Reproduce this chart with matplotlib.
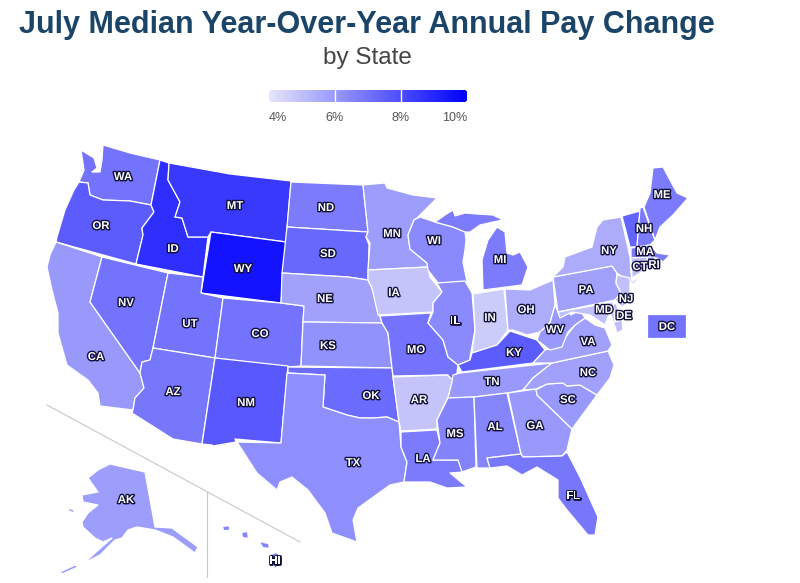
import matplotlib
matplotlib.use("Agg")
import matplotlib.pyplot as plt
import matplotlib.patheffects as pe
from matplotlib.colors import LinearSegmentedColormap, Normalize
from matplotlib.patches import Polygon, FancyBboxPatch
import numpy as np

plt.rcParams['font.family'] = ['Liberation Sans', 'DejaVu Sans']

# values, percent
state_codes = ['WA', 'OR', 'CA', 'NV', 'ID', 'MT', 'WY', 'UT', 'CO', 'AZ', 'NM',
               'ND', 'SD', 'NE', 'KS', 'OK', 'TX', 'MN', 'IA', 'MO', 'AR', 'LA',
               'WI', 'IL', 'MI', 'IN', 'OH', 'KY', 'TN', 'MS', 'AL', 'GA', 'FL',
               'SC', 'NC', 'VA', 'WV', 'PA', 'NY', 'VT', 'NH', 'ME', 'MA', 'CT',
               'RI', 'NJ', 'DE', 'MD', 'DC', 'AK', 'HI']
pay_change = [7.0, 7.6, 6.0, 7.0, 8.8, 8.5, 9.5, 7.0, 7.0, 6.9, 7.7,
              6.8, 7.3, 5.8, 6.2, 7.2, 6.3, 5.9, 4.9, 7.0, 4.9, 6.8,
              6.4, 6.4, 6.8, 4.7, 5.5, 7.6, 6.0, 6.6, 6.5, 6.0, 6.9,
              6.0, 5.8, 5.8, 6.0, 5.8, 5.5, 7.4, 6.8, 6.8, 6.8, 5.0,
              6.5, 5.0, 5.0, 5.0, 7.0, 5.9, 6.5]
legend_ticks = [4, 6, 8, 10]
legend_labels = ['4%', '6%', '8%', '10%']

# rough state outlines in picture pixels
outlines = {
    'WA': [[(81, 150), (94, 158), (97, 168), (92, 172), (100, 172), (102, 160), (103, 145), (130, 153), (160, 160), (151, 205), (130, 201), (103, 200), (90, 195), (88, 183), (79, 182), (84, 170)]],
    'OR': [[(79, 182), (88, 183), (90, 195), (103, 200), (130, 201), (151, 205), (154, 212), (142, 228), (143, 235), (136, 264), (56, 242), (57, 237), (65, 210), (74, 190)]],
    'CA': [[(56, 242), (102, 257), (90, 302), (140, 373), (144, 388), (135, 398), (133, 410), (100, 406), (98, 393), (88, 380), (67, 365), (58, 333), (58, 313), (52, 290), (47, 267), (50, 255)]],
    'NV': [[(102, 257), (168, 273), (153, 348), (150, 360), (142, 362), (140, 373), (90, 302)]],
    'ID': [[(160, 160), (169, 163), (168, 180), (180, 202), (175, 217), (182, 218), (188, 237), (208, 237), (203, 277), (136, 264), (143, 235), (142, 228), (154, 212), (151, 205)]],
    'MT': [[(169, 163), (230, 174), (291, 181), (286, 242), (211, 232), (208, 237), (188, 237), (182, 218), (175, 217), (180, 202), (168, 180)]],
    'WY': [[(211, 232), (286, 242), (281, 303), (201, 293)]],
    'UT': [[(168, 273), (203, 277), (201, 293), (223, 298), (215, 358), (153, 348)]],
    'CO': [[(223, 298), (281, 303), (304, 306), (303, 322), (301, 366), (288, 367), (215, 358)]],
    'AZ': [[(153, 348), (215, 358), (202, 444), (173, 439), (132, 413), (133, 410), (135, 398), (144, 388), (140, 373), (142, 362), (150, 360)]],
    'NM': [[(215, 358), (288, 366), (281, 443), (235, 439), (236, 442), (213, 446), (212, 445), (202, 444)]],
    'ND': [[(291, 182), (363, 185), (368, 232), (287, 227)]],
    'SD': [[(287, 227), (368, 232), (366, 237), (369, 245), (368, 280), (348, 277), (282, 273)]],
    'NE': [[(282, 273), (348, 277), (368, 280), (372, 288), (382, 323), (303, 322), (304, 306), (281, 303)]],
    'KS': [[(303, 322), (382, 323), (388, 333), (392, 368), (301, 366)]],
    'OK': [[(288, 367), (392, 368), (393, 377), (399, 422), (387, 417), (373, 418), (360, 418), (347, 415), (323, 407), (325, 375), (288, 373)]],
    'TX': [[(287, 373), (325, 375), (323, 407), (347, 415), (360, 418), (373, 418), (387, 417), (399, 422), (401, 447), (407, 462), (404, 482), (390, 485), (358, 508), (353, 520), (357, 542), (332, 533), (325, 513), (308, 490), (292, 477), (280, 482), (277, 490), (257, 473), (237, 442), (281, 443)]],
    'MN': [[(363, 185), (385, 183), (387, 188), (413, 195), (437, 198), (417, 218), (414, 220), (408, 235), (410, 249), (427, 263), (428, 267), (368, 270), (370, 243), (366, 237), (368, 232)]],
    'IA': [[(368, 270), (428, 267), (430, 277), (442, 292), (433, 303), (433, 312), (378, 315), (372, 288), (368, 280)]],
    'MO': [[(380, 316), (431, 313), (428, 323), (443, 340), (448, 357), (458, 365), (457, 373), (452, 382), (448, 375), (393, 376), (392, 368), (388, 333), (382, 323)]],
    'AR': [[(393, 377), (447, 375), (453, 380), (448, 397), (437, 420), (437, 429), (401, 431), (399, 422)]],
    'LA': [[(401, 432), (437, 430), (440, 443), (433, 460), (458, 460), (463, 472), (450, 473), (467, 487), (447, 488), (430, 482), (404, 482), (407, 462), (401, 447)]],
    'MS': [[(448, 398), (474, 397), (476, 467), (462, 472), (458, 460), (433, 460), (440, 443), (437, 420)]],
    'AL': [[(474, 397), (507, 393), (521, 454), (487, 458), (490, 468), (477, 468)]],
    'GA': [[(508, 393), (536, 389), (537, 395), (572, 429), (567, 450), (562, 456), (523, 457), (521, 454)]],
    'FL': [[(487, 458), (521, 454), (523, 457), (562, 456), (567, 452), (580, 477), (598, 517), (595, 535), (588, 535), (567, 510), (558, 498), (558, 480), (537, 467), (522, 475), (507, 466), (490, 468)]],
    'SC': [[(536, 390), (547, 384), (563, 383), (567, 386), (580, 385), (597, 395), (572, 429), (537, 395)]],
    'NC': [[(523, 390), (533, 378), (552, 363), (608, 351), (614, 365), (610, 378), (597, 395), (580, 385), (567, 386), (563, 383), (547, 384), (536, 389)]],
    'TN': [[(452, 382), (453, 375), (460, 373), (552, 363), (533, 378), (523, 390), (508, 393), (474, 397), (448, 398)]],
    'KY': [[(458, 365), (470, 360), (472, 353), (497, 345), (510, 331), (525, 336), (537, 340), (545, 350), (533, 363), (462, 372)]],
    'IL': [[(437, 283), (465, 281), (472, 293), (475, 330), (470, 357), (470, 360), (458, 365), (448, 357), (443, 340), (428, 323), (433, 312), (433, 303), (442, 292)]],
    'IN': [[(473, 294), (504, 289), (508, 330), (497, 345), (472, 353), (475, 330)]],
    'OH': [[(505, 289), (530, 290), (553, 280), (555, 305), (550, 323), (540, 332), (527, 335), (513, 330), (508, 330)]],
    'MI': [[(483, 290), (482, 260), (488, 240), (497, 227), (505, 232), (507, 253), (513, 255), (520, 252), (528, 267), (522, 285)],
           [(435, 222), (445, 215), (453, 210), (455, 216), (465, 213), (477, 214), (493, 215), (503, 220), (493, 222), (480, 225), (470, 232), (465, 232), (453, 227)]],
    'WI': [[(414, 220), (420, 217), (435, 222), (453, 227), (465, 232), (466, 240), (465, 250), (463, 262), (467, 282), (438, 283), (428, 270), (427, 263), (410, 249), (408, 235)]],
    'PA': [[(553, 277), (612, 266), (617, 273), (616, 283), (621, 293), (615, 300), (558, 312)]],
    'NY': [[(565, 257), (592, 247), (597, 227), (603, 220), (621, 217), (630, 257), (631, 273), (632, 282), (646, 272), (633, 284), (617, 273), (612, 266), (553, 277), (563, 267)]],
    'VT': [[(622, 216), (640, 211), (637, 247), (630, 247)]],
    'NH': [[(640, 208), (643, 207), (655, 240), (650, 245), (637, 247)]],
    'ME': [[(644, 207), (650, 193), (653, 168), (663, 167), (677, 193), (688, 198), (673, 215), (660, 227), (655, 240)]],
    'MA': [[(631, 248), (650, 245), (657, 253), (670, 255), (663, 262), (657, 258), (631, 258)]],
    'CT': [[(631, 258), (647, 257), (648, 268), (632, 278)]],
    'RI': [[(647, 257), (654, 257), (657, 265), (649, 268)]],
    'NJ': [[(617, 275), (630, 278), (630, 290), (628, 303), (622, 307), (615, 300), (621, 293), (616, 283)]],
    'DE': [[(613, 305), (616, 303), (622, 320), (615, 322)]],
    'MD': [[(558, 312), (613, 302), (615, 322), (622, 320), (623, 330), (617, 333), (610, 312), (605, 325), (590, 315), (572, 312), (560, 318)]],
    'VA': [[(533, 363), (545, 350), (555, 347), (565, 338), (575, 325), (585, 318), (595, 325), (605, 328), (612, 345), (608, 351), (552, 363)]],
    'WV': [[(555, 305), (558, 312), (568, 310), (571, 315), (580, 310), (585, 318), (575, 325), (568, 332), (562, 347), (550, 350), (537, 340), (540, 332), (550, 323)]],
    'DC': [[(647, 314), (686, 314), (686, 338), (647, 338)]],
    'AK': [[(88, 478), (98, 470), (110, 464), (145, 472), (155, 527), (172, 528), (198, 547), (195, 553), (173, 537), (155, 530), (137, 527), (128, 530), (122, 538), (115, 540), (100, 555), (84, 563), (95, 553), (112, 538), (103, 542), (95, 538), (83, 527), (82, 522), (88, 513), (98, 505), (83, 502), (82, 495), (98, 492)],
           [(60, 572), (75, 565), (78, 567), (62, 574)], [(68, 508), (74, 510), (74, 513), (69, 511)]],
    'HI': [[(270, 555), (277, 553), (282, 561), (275, 568)], [(260, 542), (268, 544), (269, 548), (263, 547)],
           [(242, 533), (247, 532), (248, 538), (243, 537)], [(223, 527), (229, 526), (229, 530), (224, 530)]],
}

label_pos = {
    'WA': (123, 177), 'OR': (101, 226), 'CA': (96, 357), 'NV': (126, 303), 'ID': (173, 249),
    'MT': (235, 206), 'WY': (243, 269), 'UT': (190, 324), 'CO': (260, 334), 'AZ': (173, 392),
    'NM': (246, 403), 'ND': (326, 208), 'SD': (328, 254), 'NE': (325, 299), 'KS': (328, 346),
    'OK': (371, 396), 'TX': (353, 463), 'MN': (392, 234), 'IA': (394, 293), 'MO': (416, 350),
    'AR': (419, 400), 'LA': (423, 459), 'WI': (434, 241), 'IL': (455, 321), 'MI': (500, 260),
    'IN': (490, 318), 'OH': (526, 310), 'KY': (514, 353), 'TN': (492, 382), 'MS': (455, 434),
    'AL': (495, 427), 'GA': (535, 426), 'FL': (573, 496), 'SC': (568, 400), 'NC': (588, 373),
    'VA': (588, 342), 'WV': (555, 330), 'PA': (586, 290), 'NY': (609, 251),
    'NH': (644, 229), 'ME': (662, 195), 'MA': (645, 252), 'CT': (640, 267), 'RI': (654, 265),
    'NJ': (626, 299), 'DE': (624, 316), 'MD': (604, 310), 'DC': (667, 327), 'AK': (126, 500),
    'HI': (275, 561),
}

cmap = LinearSegmentedColormap.from_list('pay', ['#e6e6fa', '#0000ff'])
norm = Normalize(vmin=legend_ticks[0], vmax=legend_ticks[-1])

fig = plt.figure(figsize=(8, 5.83), dpi=100)
ax = fig.add_axes([0, 0, 1, 1])
ax.set_xlim(0, 800)
ax.set_ylim(583, 0)
ax.axis('off')

# inset dividers
ax.plot([47, 300], [405, 542], color='#c8c8c8', lw=0.8)
ax.plot([207, 207], [492, 577], color='#c8c8c8', lw=0.8)

for code, val in zip(state_codes, pay_change):
    edge = 0.2 if code == 'HI' else 0.9
    for part in outlines[code]:
        ax.add_patch(Polygon(part, closed=True, fc=cmap(norm(val)), ec='white', lw=edge, joinstyle='round'))

halo = [pe.withStroke(linewidth=2.0, foreground='#10103a')]
for code in state_codes:
    if code not in label_pos:
        continue
    x, y = label_pos[code]
    ax.text(x, y, code, color='white', fontsize=8.2, fontweight='bold', ha='center', va='center',
            path_effects=halo, zorder=5)

# legend bar
ramp = np.linspace(legend_ticks[0], legend_ticks[-1], 256).reshape(1, -1)
bar = ax.imshow(ramp, cmap=cmap, norm=norm, extent=(269, 467, 102, 90), aspect='auto', zorder=3)
clip = FancyBboxPatch((269, 90), 198, 12, boxstyle='round,pad=0,rounding_size=2.5', transform=ax.transData,
                      fc='none', ec='none')
ax.add_patch(clip)
bar.set_clip_path(clip)
ax.set_xlim(0, 800)
ax.set_ylim(583, 0)
for tick in legend_ticks[1:-1]:
    xpos = 269 + (tick - legend_ticks[0]) / (legend_ticks[-1] - legend_ticks[0]) * 198
    ax.plot([xpos, xpos], [90, 102], color='white', lw=1, zorder=4)
ax.text(269, 118, legend_labels[0], color='#555555', fontsize=9, ha='left', va='center')
ax.text(335, 118, legend_labels[1], color='#555555', fontsize=9, ha='center', va='center')
ax.text(401, 118, legend_labels[2], color='#555555', fontsize=9, ha='center', va='center')
ax.text(467, 118, legend_labels[3], color='#555555', fontsize=9, ha='right', va='center')

ax.text(19, 24.5, 'July Median Year-Over-Year Annual Pay Change', color='#1a4569', fontsize=22,
        fontweight='bold', ha='left', va='center')
ax.text(367, 58, 'by State', color='#444444', fontsize=17.5, ha='center', va='center')

fig.savefig('out.png', dpi=100)
